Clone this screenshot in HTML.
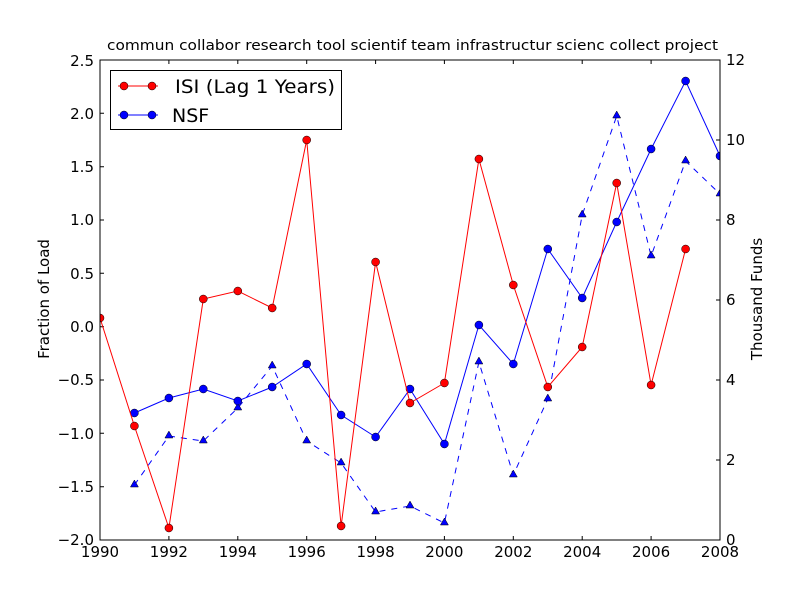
<!DOCTYPE html>
<html><head><meta charset="utf-8"><style>body{margin:0;background:#fff}svg{display:block}</style></head><body>
<svg width="800" height="600" xmlns="http://www.w3.org/2000/svg" font-family="DejaVu Sans, Liberation Sans, sans-serif">
<rect width="800" height="600" fill="#fff"/>
<text x="107" y="50" font-size="14" textLength="611" lengthAdjust="spacingAndGlyphs">commun collabor research tool scientif team infrastructur scienc collect project</text>
<g stroke="#000" stroke-width="1">
<path d="M100,540v-4M168.9,540v-4M237.8,540v-4M306.7,540v-4M375.6,540v-4M444.4,540v-4M513.3,540v-4M582.2,540v-4M651.1,540v-4M720,540v-4M100,60v4M168.9,60v4M237.8,60v4M306.7,60v4M375.6,60v4M444.4,60v4M513.3,60v4M582.2,60v4M651.1,60v4M720,60v4"/>
<path d="M100,60h4M100,113.3h4M100,166.7h4M100,220h4M100,273.3h4M100,326.7h4M100,380h4M100,433.3h4M100,486.7h4M100,540h4"/>
<path d="M720,540h-4M720,460h-4M720,380h-4M720,300h-4M720,220h-4M720,140h-4M720,60h-4"/>
</g>
<g font-size="15" text-anchor="middle">
<text x="100" y="557">1990</text><text x="168.9" y="557">1992</text><text x="237.8" y="557">1994</text><text x="306.7" y="557">1996</text><text x="375.6" y="557">1998</text><text x="444.4" y="557">2000</text><text x="513.3" y="557">2002</text><text x="582.2" y="557">2004</text><text x="651.1" y="557">2006</text><text x="720" y="557">2008</text>
</g>
<g font-size="15" text-anchor="end">
<text x="94" y="66">2.5</text><text x="94" y="119">2.0</text><text x="94" y="172">1.5</text><text x="94" y="225">1.0</text><text x="94" y="279">0.5</text><text x="94" y="332">0.0</text><text x="94" y="385">−0.5</text><text x="94" y="439">−1.0</text><text x="94" y="492">−1.5</text><text x="94" y="545">−2.0</text>
</g>
<g font-size="15">
<text x="726" y="545">0</text><text x="726" y="465">2</text><text x="726" y="385">4</text><text x="726" y="305">6</text><text x="726" y="225">8</text><text x="726" y="145">10</text><text x="726" y="65">12</text>
</g>
<text transform="translate(49,299) rotate(-90)" font-size="15" text-anchor="middle">Fraction of Load</text>
<text transform="translate(762,299) rotate(-90)" font-size="15" text-anchor="middle">Thousand Funds</text>
<svg x="100" y="60" width="620" height="480" viewBox="100 60 620 480" overflow="hidden">
<polyline fill="none" stroke="#0000ff" stroke-dasharray="6,6" points="134.4,485 168.9,436 203.3,441 237.8,408 272.2,366 306.7,441 341.1,463 375.6,512 410,506 444.4,523 478.9,362 513.3,475 547.8,399 582.2,215 616.7,116 651.1,256 685.6,161 720,194"/>
<g fill="#0000ff" stroke="#000" stroke-width="0.5">
<path d="M134.4,480l4,7h-8z M168.9,431l4,7h-8z M203.3,436l4,7h-8z M237.8,403l4,7h-8z M272.2,361l4,7h-8z M306.7,436l4,7h-8z M341.1,458l4,7h-8z M375.6,507l4,7h-8z M410,501l4,7h-8z M444.4,518l4,7h-8z M478.9,357l4,7h-8z M513.3,470l4,7h-8z M547.8,394l4,7h-8z M582.2,210l4,7h-8z M616.7,111l4,7h-8z M651.1,251l4,7h-8z M685.6,156l4,7h-8z M720,189l4,7h-8z"/>
</g>
<polyline fill="none" stroke="#0000ff" points="134.4,413 168.9,398 203.3,389 237.8,401 272.2,387 306.7,364 341.1,415 375.6,437 410,389 444.4,444 478.9,325 513.3,364 547.8,249 582.2,298 616.7,222 651.1,149 685.6,81 720,156"/>
<g fill="#0000ff" stroke="#000" stroke-width="0.5">
<circle cx="134.4" cy="413" r="4"/><circle cx="168.9" cy="398" r="4"/><circle cx="203.3" cy="389" r="4"/><circle cx="237.8" cy="401" r="4"/><circle cx="272.2" cy="387" r="4"/><circle cx="306.7" cy="364" r="4"/><circle cx="341.1" cy="415" r="4"/><circle cx="375.6" cy="437" r="4"/><circle cx="410" cy="389" r="4"/><circle cx="444.4" cy="444" r="4"/><circle cx="478.9" cy="325" r="4"/><circle cx="513.3" cy="364" r="4"/><circle cx="547.8" cy="249" r="4"/><circle cx="582.2" cy="298" r="4"/><circle cx="616.7" cy="222" r="4"/><circle cx="651.1" cy="149" r="4"/><circle cx="685.6" cy="81" r="4"/><circle cx="720" cy="156" r="4"/>
</g>
<polyline fill="none" stroke="#ff0000" points="100,318 134.4,426 168.9,528 203.3,299 237.8,291 272.2,308 306.7,140 341.1,526 375.6,262 410,403 444.4,383 478.9,159 513.3,285 547.8,387 582.2,347 616.7,183 651.1,385 685.6,249"/>
<g fill="#ff0000" stroke="#000" stroke-width="0.5">
<circle cx="100" cy="318" r="4"/><circle cx="134.4" cy="426" r="4"/><circle cx="168.9" cy="528" r="4"/><circle cx="203.3" cy="299" r="4"/><circle cx="237.8" cy="291" r="4"/><circle cx="272.2" cy="308" r="4"/><circle cx="306.7" cy="140" r="4"/><circle cx="341.1" cy="526" r="4"/><circle cx="375.6" cy="262" r="4"/><circle cx="410" cy="403" r="4"/><circle cx="444.4" cy="383" r="4"/><circle cx="478.9" cy="159" r="4"/><circle cx="513.3" cy="285" r="4"/><circle cx="547.8" cy="387" r="4"/><circle cx="582.2" cy="347" r="4"/><circle cx="616.7" cy="183" r="4"/><circle cx="651.1" cy="385" r="4"/><circle cx="685.6" cy="249" r="4"/>
</g>
</svg>
<rect x="100" y="60" width="620" height="480" fill="none" stroke="#000"/>
<rect x="110.5" y="70.5" width="231" height="59" fill="#fff" stroke="#000"/>
<line x1="118" y1="86" x2="158" y2="86" stroke="#ff0000"/>
<circle cx="124" cy="86" r="4" fill="#ff0000" stroke="#000" stroke-width="0.5"/><circle cx="152" cy="86" r="4" fill="#ff0000" stroke="#000" stroke-width="0.5"/>
<text x="175" y="93" font-size="19" textLength="160" lengthAdjust="spacingAndGlyphs">ISI (Lag 1 Years)</text>
<line x1="118" y1="115" x2="158" y2="115" stroke="#0000ff"/>
<circle cx="124" cy="115" r="4" fill="#0000ff" stroke="#000" stroke-width="0.5"/><circle cx="152" cy="115" r="4" fill="#0000ff" stroke="#000" stroke-width="0.5"/>
<text x="172" y="122" font-size="19">NSF</text>
</svg>
</body></html>
